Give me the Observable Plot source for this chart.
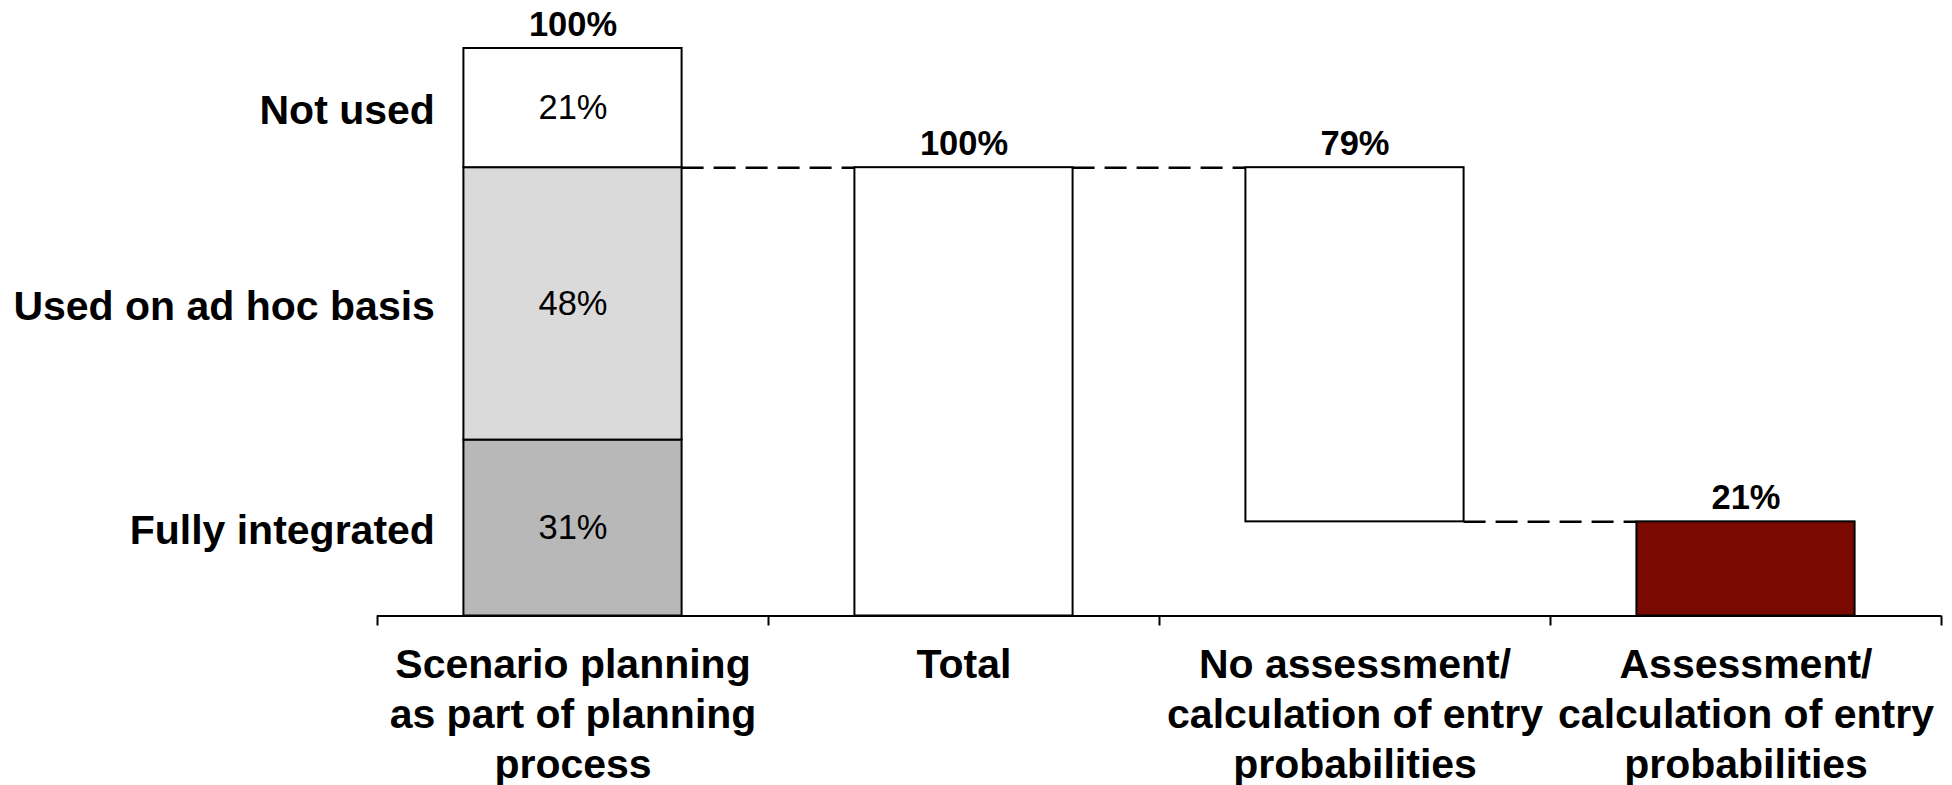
<!DOCTYPE html>
<html>
<head>
<meta charset="utf-8">
<script src="https://cdn.jsdelivr.net/npm/d3@7"></script>
<script src="https://cdn.jsdelivr.net/npm/@observablehq/plot@0.6"></script>
<style>
  html, body { margin: 0; padding: 0; background: #ffffff; }
  #chart svg { display: block; }
</style>
</head>
<body>
<div id="chart"></div>
<script>
// Columns along the x axis, one band each
const categories = [
  "Scenario planning\nas part of planning\nprocess",
  "Total",
  "No assessment/\ncalculation of entry\nprobabilities",
  "Assessment/\ncalculation of entry\nprobabilities"
];

// Use of scenario planning, % of all respondents (stacked bottom to top)
const usageLevels = ["Fully integrated", "Used on ad hoc basis", "Not used"];
const usageShares = [31, 48, 21];
const usageFills = ["#b8b8b8", "#dadada", "#ffffff"];

// Companies using scenario planning, % of users
const totalShare = 100;
const entryLevels = ["No assessment", "Assessment"];
const entryShares = [79, 21];
const entryFills = ["#ffffff", "#7a0a01"];

// Bar half-width, as a fraction of one band
const half = 0.279;
const font = 'Arial, "Liberation Sans", Helvetica, sans-serif';

// Stack the usage levels
let acc = 0;
const usageRows = usageLevels.map((level, i) => {
  const y1 = acc;
  acc += usageShares[i];
  return {level, value: usageShares[i], y1, y2: acc, fill: usageFills[i]};
});
const allShare = acc;                                 // 100 %
const usersShare = allShare - usageShares[usageLevels.indexOf("Not used")]; // 79 %
const k = usersShare / totalShare;                    // users re-based to 100 %

// Waterfall of the users
const flowRows = [
  {pos: 1, y1: 0, y2: totalShare * k, fill: "#ffffff", value: totalShare},
  {pos: 2, y1: (totalShare - entryShares[0]) * k, y2: totalShare * k, fill: entryFills[0], value: entryShares[0]},
  {pos: 3, y1: 0, y2: entryShares[1] * k, fill: entryFills[1], value: entryShares[1]}
];

// Labels above each column
const topLabels = [{pos: 0, y: allShare, value: allShare}, ...flowRows.map(d => ({pos: d.pos, y: d.y2, value: d.value}))];

// Dashed connectors between neighbouring columns
const connectors = [
  {from: 0, to: 1, y: usersShare},
  {from: 1, to: 2, y: totalShare * k},
  {from: 2, to: 3, y: entryShares[1] * k}
];

const chart = Plot.plot({
  width: 1952,
  height: 785,
  marginLeft: 377,
  marginRight: 11,
  marginTop: 48,
  marginBottom: 169.5,
  x: {domain: [0, categories.length]},
  y: {domain: [0, 100], axis: null},
  color: {type: "identity"},
  style: {fontFamily: font, background: "#ffffff", overflow: "visible", color: "#000"},
  marks: [
    Plot.ruleY(connectors, {
      y: "y",
      x1: d => d.from + 0.5 + half,
      x2: d => d.to + 0.5 - half,
      stroke: "#000",
      strokeWidth: 2.5,
      strokeDasharray: "22,10"
    }),
    Plot.rect(usageRows, {
      x1: () => 0.5 - half,
      x2: () => 0.5 + half,
      y1: "y1",
      y2: "y2",
      fill: "fill",
      stroke: "#000",
      strokeWidth: 2
    }),
    Plot.rect(flowRows, {
      x1: d => d.pos + 0.5 - half,
      x2: d => d.pos + 0.5 + half,
      y1: "y1",
      y2: "y2",
      fill: "fill",
      stroke: "#000",
      strokeWidth: 2
    }),
    Plot.ruleY([0], {stroke: "#000", strokeWidth: 2}),
    Plot.axisX({
      ticks: d3.range(categories.length + 1),
      tickSize: 10,
      tickFormat: () => "",
      strokeWidth: 2
    }),
    // values inside the stacked column
    Plot.text(usageRows, {
      x: () => 0.5,
      y: d => (d.y1 + d.y2) / 2,
      text: d => `${d.value}%`,
      fontSize: 34.5,
      fill: "#000"
    }),
    // row labels to the left of the stacked column
    Plot.text(usageRows, {
      x: () => 0.5 - half,
      y: d => (d.y1 + d.y2) / 2,
      text: "level",
      textAnchor: "end",
      dx: -29,
      dy: 3,
      fontSize: 41,
      fontWeight: "bold",
      fill: "#000"
    }),
    // totals above the columns
    Plot.text(topLabels, {
      x: d => d.pos + 0.5,
      y: "y",
      text: d => `${d.value}%`,
      lineAnchor: "bottom",
      dy: -13,
      fontSize: 34.5,
      fontWeight: "bold",
      fill: "#000"
    }),
    // category labels under the axis
    Plot.text(categories, {
      x: (d, i) => i + 0.5,
      frameAnchor: "bottom",
      lineAnchor: "top",
      lineHeight: 50 / 41,
      dy: 26.7,
      fontSize: 41,
      fontWeight: "bold",
      fill: "#000"
    })
  ]
});

document.getElementById("chart").appendChild(chart);
</script>
</body>
</html>
